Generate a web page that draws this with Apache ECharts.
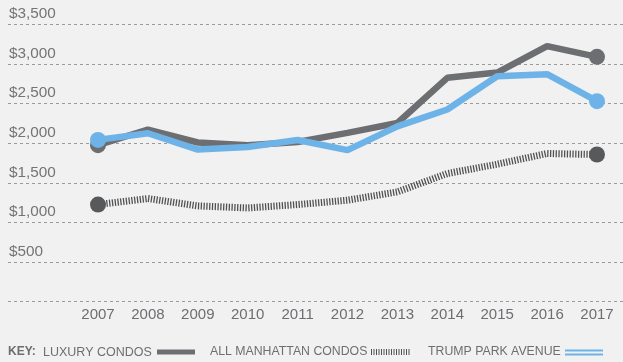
<!DOCTYPE html>
<html>
<head>
<meta charset="utf-8">
<script src="https://cdn.jsdelivr.net/npm/echarts@6/dist/echarts.min.js"></script>
<style>
html,body{margin:0;padding:0;background:#f1f1f1;}
#chart{width:623px;height:362px;}
</style>
</head>
<body>
<div id="chart"></div>
<script>
var years = ['2007','2008','2009','2010','2011','2012','2013','2014','2015','2016','2017'];
var luxuryCondos = [1975, 2173, 2009, 1975, 2015, 2131, 2255, 2826, 2893, 3226, 3091];
var allManhattanCondos = [1225, 1301, 1208, 1182, 1225, 1280, 1385, 1617, 1735, 1870, 1857];
var trumpParkAvenue = [2042, 2126, 1920, 1953, 2040, 1912, 2212, 2426, 2847, 2872, 2531];
var yTickLabels = ['', '$500', '$1,000', '$1,500', '$2,000', '$2,500', '$3,000', '$3,500'];
var legendLabels = ['KEY:', 'LUXURY CONDOS', 'ALL MANHATTAN CONDOS', 'TRUMP PARK AVENUE'];

var FONT = '"Liberation Sans", Arial, sans-serif';
var TXT = '#6d6e71';

function endMarkers(arr, size) {
  return arr.map(function (v, i) {
    if (i === 0 || i === arr.length - 1) {
      return { value: v, symbol: 'circle', symbolSize: size };
    }
    return { value: v, symbol: 'none' };
  });
}

var chart = echarts.init(document.getElementById('chart'), null, { renderer: 'canvas' });
chart.setOption({
  backgroundColor: '#f1f1f1',
  animation: false,
  grid: [
    { left: 8, right: 0, top: 24.5, bottom: 60.5 },
    { left: 98, right: 26, top: 24.5, bottom: 60.5 }
  ],
  xAxis: [
    { gridIndex: 0, type: 'value', show: false, min: 0, max: 1 },
    {
      gridIndex: 1, type: 'category', data: years, boundaryGap: false,
      axisLine: { show: false }, axisTick: { show: false }, splitLine: { show: false },
      axisLabel: { color: TXT, fontSize: 15, fontFamily: FONT, margin: 6 }
    }
  ],
  yAxis: [
    {
      gridIndex: 0, type: 'value', min: 0, max: 3500, interval: 500,
      axisLine: { show: false }, axisTick: { show: false },
      splitLine: { show: true, lineStyle: { color: '#9a9a9a', type: [3, 3], width: 1 } },
      axisLabel: {
        inside: true, margin: 1, align: 'left', verticalAlign: 'bottom',
        padding: [0, 0, 3, 0],
        color: '#747477', fontSize: 15.3, fontFamily: FONT,
        formatter: function (v) { return yTickLabels[Math.round(v / 500)] || ''; }
      }
    },
    {
      gridIndex: 1, type: 'value', min: 0, max: 3500, interval: 500,
      show: false, splitLine: { show: false }
    }
  ],
  series: [
    {
      name: 'ALL MANHATTAN CONDOS', type: 'line', xAxisIndex: 1, yAxisIndex: 1,
      data: endMarkers(allManhattanCondos, 16), symbol: 'none', showAllSymbol: true,
      lineStyle: { color: '#505153', width: 7, type: [1.3, 1.5], cap: 'butt' },
      itemStyle: { color: '#58595b' }, z: 2
    },
    {
      name: 'LUXURY CONDOS', type: 'line', xAxisIndex: 1, yAxisIndex: 1,
      data: endMarkers(luxuryCondos, 16), symbol: 'none', showAllSymbol: true,
      lineStyle: { color: '#6d6e71', width: 6.5 },
      itemStyle: { color: '#6d6e71' }, z: 3
    },
    {
      name: 'TRUMP PARK AVENUE', type: 'line', xAxisIndex: 1, yAxisIndex: 1,
      data: endMarkers(trumpParkAvenue, 16), symbol: 'none', showAllSymbol: true,
      lineStyle: { color: '#6db3e8', width: 6.5 },
      itemStyle: { color: '#6db3e8' }, z: 4
    }
  ],
  graphic: [
    { type: 'text', left: 8, top: 346, style: { text: legendLabels[0], fill: TXT, font: 'bold 12px ' + FONT } },
    { type: 'text', left: 43, top: 346, style: { text: legendLabels[1], fill: TXT, font: '12.5px ' + FONT } },
    { type: 'rect', shape: { x: 157, y: 349.5, width: 38, height: 5 }, style: { fill: '#6d6e71' } },
    { type: 'text', left: 210, top: 346, style: { text: legendLabels[2], fill: TXT, font: '12.3px ' + FONT } },
    { type: 'line', shape: { x1: 371, y1: 352, x2: 410, y2: 352 }, style: { stroke: '#505153', lineWidth: 6, lineDash: [1, 1.5] } },
    { type: 'text', left: 428, top: 346, style: { text: legendLabels[3], fill: TXT, font: '12.3px ' + FONT } },
    { type: 'line', shape: { x1: 565, y1: 350.5, x2: 603, y2: 350.5 }, style: { stroke: '#6db3e8', lineWidth: 2 } },
    { type: 'line', shape: { x1: 565, y1: 354.5, x2: 603, y2: 354.5 }, style: { stroke: '#6db3e8', lineWidth: 2 } }
  ]
});
</script>
</body>
</html>
